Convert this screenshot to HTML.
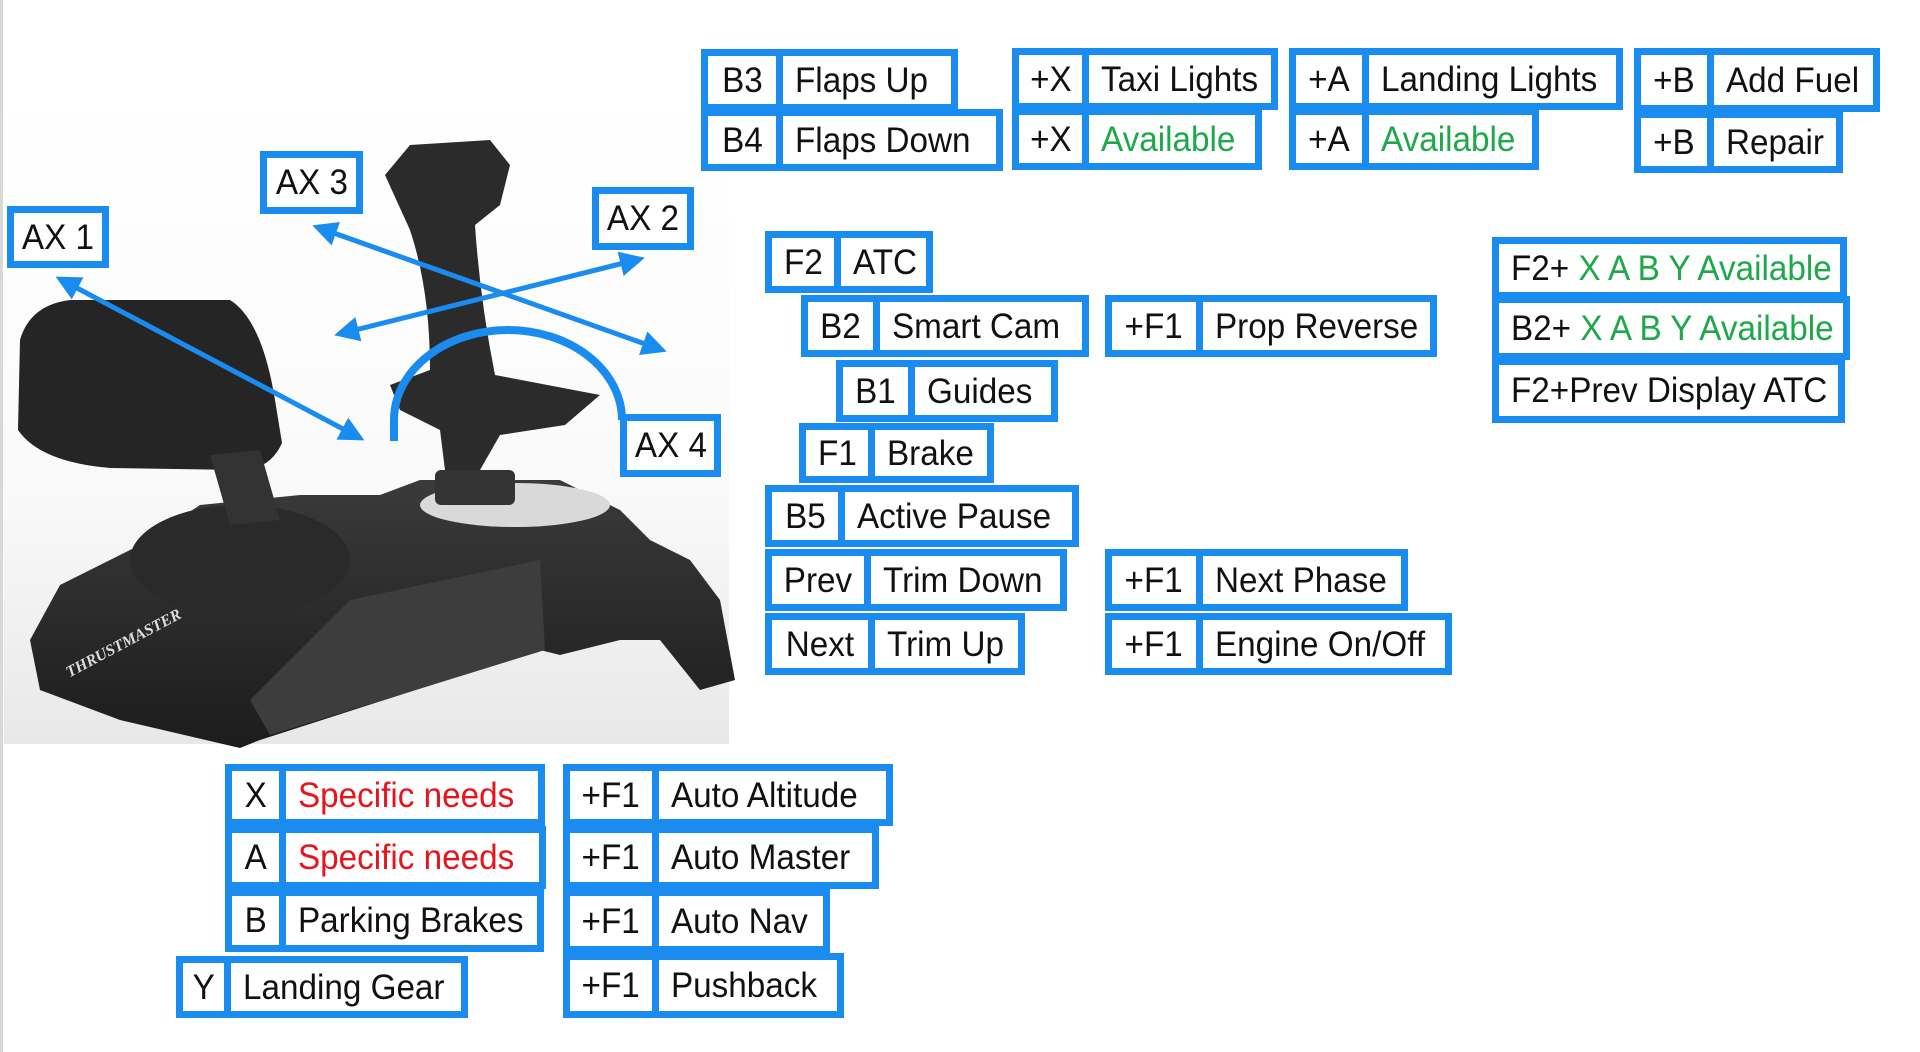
<!DOCTYPE html>
<html><head><meta charset="utf-8">
<style>
body{margin:0;width:1920px;height:1052px;background:#fff;position:relative;overflow:hidden;font-family:"Liberation Sans Narrow","Liberation Sans",sans-serif;}
.c{position:absolute;box-sizing:border-box;border:7px solid #1a8cf0;background:#fff;color:#111;font-size:35px;line-height:1;display:flex;align-items:center;white-space:nowrap;}
.c>span{display:inline-block;transform:scaleX(.95);}
.k{justify-content:center;}
.k>span{transform-origin:center;}
.l{padding-left:12px;}
.l>span{transform-origin:left center;}
.g{color:#1ea84a;}
.r{color:#e8141c;}
svg{position:absolute;left:0;top:0;}
</style></head><body>
<svg width="1920" height="1052" viewBox="0 0 1920 1052">
<defs>
<linearGradient id="bg" x1="0" y1="0" x2="0" y2="1"><stop offset="0" stop-color="#ffffff"/><stop offset="0.6" stop-color="#fafafa"/><stop offset="1" stop-color="#e8e8e8"/></linearGradient>
<linearGradient id="dk" x1="0" y1="0" x2="0" y2="1"><stop offset="0" stop-color="#3a3a3a"/><stop offset="1" stop-color="#1c1c1c"/></linearGradient>
<marker id="ah" viewBox="0 0 10 10" refX="8" refY="5" markerWidth="5" markerHeight="5" orient="auto-start-reverse"><path d="M0,0 L10,5 L0,10 z" fill="#1a8cf0"/></marker>
</defs>
<rect x="4" y="90" width="725" height="654" fill="url(#bg)"/>
<rect x="0" y="0" width="3" height="1052" fill="#d8d8d8"/>
<polygon points="30,640 60,585 140,545 200,505 300,495 380,495 420,480 560,480 620,510 650,540 690,560 720,600 735,680 700,690 660,640 620,640 560,655 540,650 260,740 240,748 120,720 40,690" fill="url(#dk)"/>
<polygon points="350,600 540,560 545,650 270,735 250,700" fill="#3d3d3d"/>
<ellipse cx="240" cy="560" rx="110" ry="55" fill="#2a2a2a"/>
<ellipse cx="515" cy="505" rx="95" ry="22" fill="#d9d9d9"/>
<rect x="435" y="470" width="80" height="35" rx="6" fill="#333"/>
<path d="M20,340 Q30,305 70,300 L230,300 Q262,320 275,400 L282,443 Q270,470 240,470 L110,468 Q40,462 18,430 Z" fill="#252525"/>
<polygon points="210,455 260,450 280,520 230,525" fill="#333"/>
<path d="M385,175 L410,145 L490,140 L510,165 L500,205 L475,225 Q480,300 495,375 L600,395 L565,425 L500,435 L480,470 L445,470 L440,430 L400,410 L390,385 L430,370 Q430,290 410,230 Z" fill="#2b2b2b"/>
<g transform="rotate(-28 100 650)"><text x="60" y="660" font-family="Liberation Serif" font-style="italic" font-weight="bold" font-size="16" fill="#ddd">THRUSTMASTER</text></g>
<g stroke="#1a8cf0" stroke-width="5" fill="none">
<line x1="60" y1="279" x2="360" y2="438" marker-start="url(#ah)" marker-end="url(#ah)"/>
<line x1="317" y1="227" x2="662" y2="350" marker-start="url(#ah)" marker-end="url(#ah)"/>
<line x1="339" y1="334" x2="640" y2="259" marker-start="url(#ah)" marker-end="url(#ah)"/>
<path d="M394,441 L394,420 A114,90 0 0 1 622,420" stroke-width="8"/>
</g>
</svg>

<div class="c k" style="left:7px;top:206px;width:102px;height:62px"><span>AX 1</span></div>
<div class="c k" style="left:260px;top:151px;width:103px;height:63px"><span>AX 3</span></div>
<div class="c k" style="left:592px;top:187px;width:102px;height:63px"><span>AX 2</span></div>
<div class="c k" style="left:620px;top:414px;width:101px;height:63px"><span>AX 4</span></div>

<div class="c k" style="left:701px;top:49px;width:82px;height:62px"><span>B3</span></div>
<div class="c l" style="left:776px;top:49px;width:182px;height:62px"><span>Flaps Up</span></div>
<div class="c k" style="left:701px;top:109px;width:82px;height:62px"><span>B4</span></div>
<div class="c l" style="left:776px;top:109px;width:227px;height:62px"><span>Flaps Down</span></div>

<div class="c k" style="left:1012px;top:48px;width:77px;height:62px"><span>+X</span></div>
<div class="c l" style="left:1082px;top:48px;width:196px;height:62px"><span>Taxi Lights</span></div>
<div class="c k" style="left:1012px;top:108px;width:77px;height:62px"><span>+X</span></div>
<div class="c l g" style="left:1082px;top:108px;width:180px;height:62px"><span>Available</span></div>

<div class="c k" style="left:1289px;top:48px;width:80px;height:62px"><span>+A</span></div>
<div class="c l" style="left:1362px;top:48px;width:261px;height:62px"><span>Landing Lights</span></div>
<div class="c k" style="left:1289px;top:108px;width:80px;height:62px"><span>+A</span></div>
<div class="c l g" style="left:1362px;top:108px;width:177px;height:62px"><span>Available</span></div>

<div class="c k" style="left:1634px;top:48px;width:80px;height:64px"><span>+B</span></div>
<div class="c l" style="left:1707px;top:48px;width:173px;height:64px"><span>Add Fuel</span></div>
<div class="c k" style="left:1634px;top:111px;width:80px;height:62px"><span>+B</span></div>
<div class="c l" style="left:1707px;top:111px;width:136px;height:62px"><span>Repair</span></div>

<div class="c l" style="left:1492px;top:237px;width:355px;height:62px"><span>F2+ <span class="g">X A B Y Available</span></span></div>
<div class="c l" style="left:1492px;top:296px;width:358px;height:64px"><span>B2+ <span class="g">X A B Y Available</span></span></div>
<div class="c l" style="left:1492px;top:358px;width:353px;height:65px"><span>F2+Prev Display ATC</span></div>

<div class="c k" style="left:765px;top:231px;width:76px;height:62px"><span>F2</span></div>
<div class="c l" style="left:834px;top:231px;width:99px;height:62px"><span>ATC</span></div>
<div class="c k" style="left:801px;top:295px;width:79px;height:62px"><span>B2</span></div>
<div class="c l" style="left:873px;top:295px;width:216px;height:62px"><span>Smart Cam</span></div>
<div class="c k" style="left:1105px;top:295px;width:98px;height:62px"><span>+F1</span></div>
<div class="c l" style="left:1196px;top:295px;width:241px;height:62px"><span>Prop Reverse</span></div>
<div class="c k" style="left:836px;top:360px;width:79px;height:62px"><span>B1</span></div>
<div class="c l" style="left:908px;top:360px;width:150px;height:62px"><span>Guides</span></div>
<div class="c k" style="left:799px;top:423px;width:76px;height:60px"><span>F1</span></div>
<div class="c l" style="left:868px;top:423px;width:126px;height:60px"><span>Brake</span></div>
<div class="c k" style="left:765px;top:485px;width:80px;height:62px"><span>B5</span></div>
<div class="c l" style="left:838px;top:485px;width:241px;height:62px"><span>Active Pause</span></div>
<div class="c k" style="left:765px;top:549px;width:106px;height:62px"><span>Prev</span></div>
<div class="c l" style="left:864px;top:549px;width:203px;height:62px"><span>Trim Down</span></div>
<div class="c k" style="left:765px;top:613px;width:110px;height:62px"><span>Next</span></div>
<div class="c l" style="left:868px;top:613px;width:157px;height:62px"><span>Trim Up</span></div>
<div class="c k" style="left:1105px;top:549px;width:98px;height:62px"><span>+F1</span></div>
<div class="c l" style="left:1196px;top:549px;width:212px;height:62px"><span>Next Phase</span></div>
<div class="c k" style="left:1105px;top:613px;width:98px;height:62px"><span>+F1</span></div>
<div class="c l" style="left:1196px;top:613px;width:256px;height:62px"><span>Engine On/Off</span></div>

<div class="c k" style="left:225px;top:764px;width:61px;height:62px"><span>X</span></div>
<div class="c l r" style="left:279px;top:764px;width:266px;height:62px"><span>Specific needs</span></div>
<div class="c k" style="left:225px;top:826px;width:61px;height:63px"><span>A</span></div>
<div class="c l r" style="left:279px;top:826px;width:267px;height:63px"><span>Specific needs</span></div>
<div class="c k" style="left:225px;top:889px;width:61px;height:63px"><span>B</span></div>
<div class="c l" style="left:279px;top:889px;width:265px;height:63px"><span>Parking Brakes</span></div>
<div class="c k" style="left:176px;top:956px;width:55px;height:62px"><span>Y</span></div>
<div class="c l" style="left:224px;top:956px;width:244px;height:62px"><span>Landing Gear</span></div>

<div class="c k" style="left:563px;top:764px;width:96px;height:62px"><span>+F1</span></div>
<div class="c l" style="left:652px;top:764px;width:241px;height:62px"><span>Auto Altitude</span></div>
<div class="c k" style="left:563px;top:826px;width:96px;height:63px"><span>+F1</span></div>
<div class="c l" style="left:652px;top:826px;width:227px;height:63px"><span>Auto Master</span></div>
<div class="c k" style="left:563px;top:889px;width:96px;height:64px"><span>+F1</span></div>
<div class="c l" style="left:652px;top:889px;width:178px;height:64px"><span>Auto Nav</span></div>
<div class="c k" style="left:563px;top:953px;width:96px;height:65px"><span>+F1</span></div>
<div class="c l" style="left:652px;top:953px;width:192px;height:65px"><span>Pushback</span></div>
</body></html>
